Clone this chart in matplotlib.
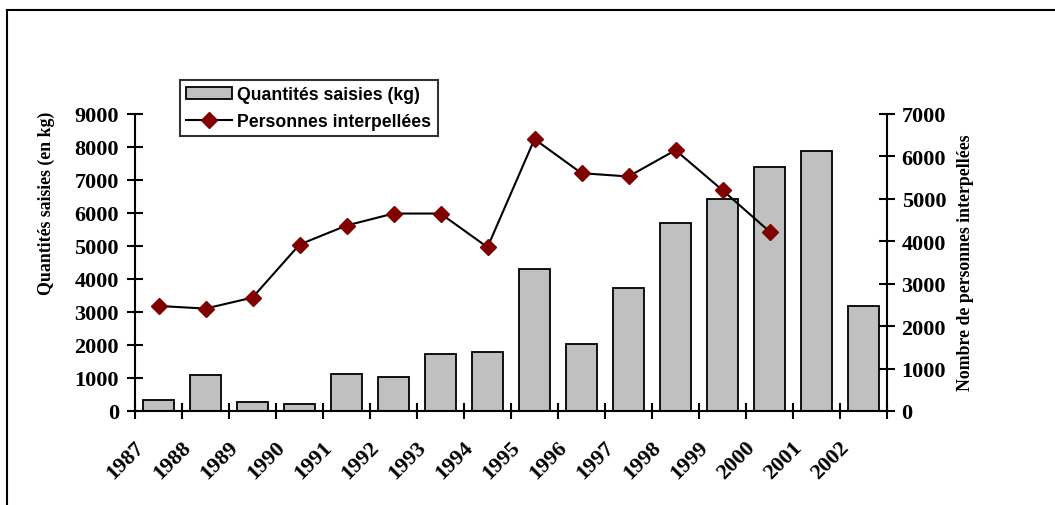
import numpy as np
import matplotlib
matplotlib.use('Agg')
from matplotlib import pyplot as plt
from matplotlib.lines import Line2D
from matplotlib.transforms import ScaledTranslation

years = ['1987', '1988', '1989', '1990', '1991', '1992', '1993', '1994',
         '1995', '1996', '1997', '1998', '1999', '2000', '2001', '2002']
saisies = [324, 1092, 283, 212, 1122, 1021, 1719, 1790,
           4317, 2032, 3731, 5693, 6421, 7381, 7887, 3175]
personnes = [2476, 2414, 2673, 3923, 4371, 4654, 4654, 3860,
             6407, 5605, 5527, 6148, 5204, 4230]
left_ticks = [0, 1000, 2000, 3000, 4000, 5000, 6000, 7000, 8000, 9000]
right_ticks = [0, 1000, 2000, 3000, 4000, 5000, 6000, 7000]

serif = 'Liberation Serif'
sans = 'Liberation Sans'

fig = plt.figure(figsize=(10.55, 5.06), dpi=100)
ax = fig.add_axes([135/1055, 94/506, 752/1055, 297/506])
ax2 = ax.twinx()

x = np.arange(len(years))
bars = ax.bar(x, saisies, width=0.68, color='#c0c0c0', edgecolor='black',
              linewidth=1.3, label='Quantités saisies (kg)', zorder=2)
line, = ax2.plot(x[:len(personnes)], personnes, color='black', lw=1.5,
                 marker='D', markersize=8, markerfacecolor='#800000',
                 markeredgecolor='#800000', label='Personnes interpellées',
                 zorder=3)

ax.set_xlim(-0.5, len(years) - 0.5)
ax.set_ylim(0, 9000)
ax2.set_ylim(0, 7000)

for a in (ax, ax2):
    for s in a.spines.values():
        s.set_linewidth(1.5)
    a.spines['top'].set_visible(False)
ax.spines['right'].set_visible(False)
ax2.spines['left'].set_visible(False)
ax2.spines['bottom'].set_visible(False)

# category boundaries as ticks, year labels in between
ax.set_xticks(np.arange(-0.5, len(years), 1))
ax.set_xticklabels([])
ax.tick_params(axis='x', which='major', direction='inout', length=11, width=1.5)
ax.set_xticks(x, minor=True)
ax.set_xticklabels(years, minor=True, rotation=45, ha='right',
                   fontfamily=serif, fontweight='bold', fontsize=16)
ax.tick_params(axis='x', which='minor', length=0, pad=19)
shift = ScaledTranslation(-7.6/72, 0, fig.dpi_scale_trans)
for lab in ax.get_xticklabels(minor=True):
    lab.set_transform(lab.get_transform() + shift)

ax.set_yticks(left_ticks)
ax.set_yticklabels([str(v) for v in left_ticks], fontfamily=serif,
                   fontweight='bold', fontsize=16)
ax.tick_params(axis='y', direction='inout', length=11, width=1.5, pad=6)
ax2.set_yticks(right_ticks)
ax2.set_yticklabels([str(v) for v in right_ticks], fontfamily=serif,
                    fontweight='bold', fontsize=16)
ax2.tick_params(axis='y', direction='inout', length=11, width=1.5, pad=5)

fig.text(46/1055, 1 - 203.5/506, 'Quantités saisies (en kg)', rotation=90,
         ha='center', va='center', fontfamily=serif, fontweight='bold', fontsize=12.8)
fig.text(965/1055, 1 - 262.5/506, 'Nombre de personnes interpellées', rotation=90,
         ha='center', va='center', fontfamily=serif, fontweight='bold', fontsize=12.8)

leg = fig.legend([bars, line], ['Quantités saisies (kg)', 'Personnes interpellées'],
                 loc='upper left', bbox_to_anchor=(180/1055, 1 - 81/506),
                 bbox_transform=fig.transFigure, borderaxespad=0,
                 frameon=True, fancybox=False, edgecolor='black',
                 prop={'family': sans, 'weight': 'bold', 'size': 12.7},
                 handlelength=2.6, handletextpad=0.3, borderpad=0.35,
                 labelspacing=0.55)
leg.get_frame().set_linewidth(1.5)

# cropped chart frame (top and left edges)
fig.add_artist(Line2D([7/1055, 7/1055], [0, 1 - 11/506], color='black', lw=1.5))
fig.add_artist(Line2D([7/1055, 1], [1 - 11/506, 1 - 11/506], color='black', lw=1.5))

fig.savefig('out.png', dpi=100)
